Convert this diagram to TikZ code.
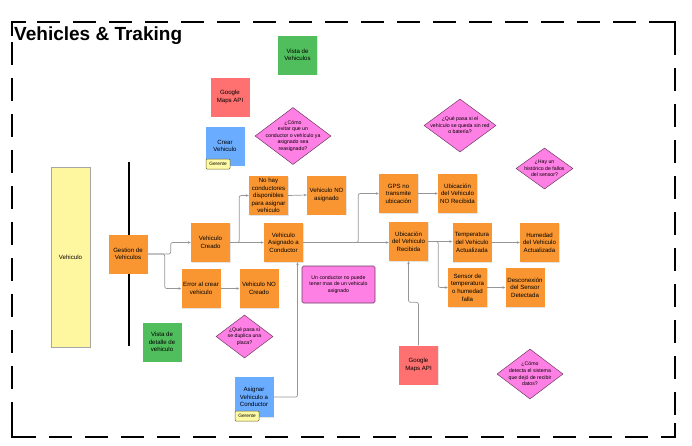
\documentclass[tikz,border=0pt]{standalone}
\usepackage{fontspec}
\setmainfont{Liberation Sans}
\usetikzlibrary{shapes.geometric,arrows.meta,shadows}
\definecolor{orng}{RGB}{249,150,50}
\definecolor{grn}{RGB}{80,190,92}
\definecolor{redn}{RGB}{255,112,112}
\definecolor{blu}{RGB}{106,172,255}
\definecolor{yel}{RGB}{255,246,160}
\definecolor{pnk}{RGB}{255,128,228}
\definecolor{pnkb}{RGB}{110,60,100}
\definecolor{tagf}{RGB}{255,250,165}
\definecolor{tagb}{RGB}{110,100,40}
\definecolor{conncol}{RGB}{150,150,150}
\begin{document}
\begin{tikzpicture}[x=1pt,y=-1pt,
  note/.style={minimum width=39pt,minimum height=39pt,inner sep=0pt,align=center,
    font=\fontsize{6.1}{7.6}\selectfont,
    drop shadow={shadow xshift=0.7pt,shadow yshift=-0.9pt,opacity=0.22}},
  onote/.style={note,fill=orng},
  gnote/.style={note,fill=grn},
  rnote/.style={note,fill=redn},
  bnote/.style={note,fill=blu},
  tagbox/.style={draw=tagb,fill=tagf,line width=0.5pt,rounded corners=1pt,inner sep=0pt,
    minimum width=24pt,minimum height=10pt,font=\fontsize{4.8}{5.5}\selectfont},
  dia/.style={shape=diamond,draw=pnkb,fill=pnk,line width=0.5pt,inner sep=0pt},
  dtext/.style={align=center,font=\fontsize{5.2}{6.6}\selectfont},
  conn/.style={draw=conncol,line width=0.7pt,rounded corners=2pt,
    -{Stealth[length=3pt,width=2.6pt]}},
  framel/.style={line width=2.6pt}
]
\useasboundingbox (0,0) rectangle (692,445);
% frame
\draw[framel,dash pattern=on 23pt off 13pt,dash phase=-20pt] (12,22) rectangle (675,437);
\draw[framel] (12,36) -- (12,22) -- (26,22);
\draw[framel] (661,22) -- (675,22) -- (675,36);
\draw[framel] (675,423) -- (675,437) -- (661,437);
\draw[framel] (26,437) -- (12,437) -- (12,423);
\node[anchor=west,font=\fontsize{19}{22}\bfseries\selectfont,inner sep=0pt] (title) at (14,36) {Vehicles \& Traking};
% lane separator
\draw[line width=2pt] (129,162) -- (129,346);

% nodes
\node[note,fill=yel,draw=black!35,line width=0.4pt,minimum height=180pt] (veh) at (70.5,257) {Vehiculo};
\node[gnote] (vistav) at (297.5,55) {Vista de\\Vehiculos};
\node[rnote] (gmaps1) at (230,97) {Google\\Maps API};
\node[bnote] (crear) at (225,146) {Crear\\Vehiculo};
\node[tagbox] (ger1) at (218,164) {Gerente};
\node[dia,minimum width=76pt,minimum height=57pt,
  label={[dtext]center:{¿Cómo\\evitar que un\\conductor o vehículo ya\\asignado sea\\reasignado?}}] (d1) at (293,136) {};

\node[onote] (gest) at (128,254) {Gestion de\\Vehiculos};
\node[onote] (vcre) at (210.5,242.5) {Vehiculo\\Creado};
\node[onote] (err) at (201,288.5) {Error al crear\\vehiculo};
\node[onote] (vnocre) at (259,288.5) {Vehiculo NO\\Creado};
\node[onote] (nohay) at (268.5,195.5) {No hay\\conductores\\disponibles\\para asignar\\vehiculo};
\node[onote] (vnoasig) at (326.5,195) {Vehiculo NO\\asignado};
\node[onote] (vasig) at (283.5,242.5) {Vehiculo\\Asignado a\\Conductor};
\node[onote] (gps) at (398.5,193.5) {GPS no\\transmite\\ubicación};
\node[onote] (unorec) at (457.5,193.5) {Ubicación\\del Vehiculo\\NO Recibida};
\node[onote] (urec) at (408.5,241.5) {Ubicación\\del Vehiculo\\Recibida};
\node[onote] (temp) at (472,242.5) {Temperatura\\del Vehiculo\\Actualizada};
\node[onote] (hum) at (539.5,242.5) {Humedad\\del Vehiculo\\Actualizada};
\node[onote] (sensor) at (467.5,287.5) {Sensor de\\temperatura\\o humedad\\falla};
\node[onote] (desc) at (525,287.5) {Desconexión\\del Sensor\\Detectada};

\node[draw=pnkb,fill=pnk,line width=0.6pt,rounded corners=1.5pt,minimum width=73pt,minimum height=37pt,
  inner sep=0pt,align=center,font=\fontsize{5.2}{6.6}\selectfont] (rule) at (338.5,284.5)
  {Un conductor no puede\\tener mas de un vehiculo\\asignado};

\node[dia,minimum width=72pt,minimum height=53pt,
  label={[dtext]center:{¿Qué pasa si el\\vehículo se queda sin red\\o batería?}}] (d2) at (460,125.5) {};
\node[dia,minimum width=57pt,minimum height=41pt,
  label={[dtext]center:{¿Hay un\\histórico de fallos\\del sensor?}}] (d3) at (544.5,168.5) {};
\node[dia,minimum width=57pt,minimum height=43pt,
  label={[dtext]center:{¿Qué pasa si\\se duplica una\\placa?}}] (d4) at (244.5,336.5) {};
\node[dia,minimum width=66pt,minimum height=50pt,
  label={[dtext]center:{¿Cómo\\detecta el sistema\\que dejó de recibir\\datos?}}] (d5) at (530,374) {};

\node[gnote] (vistad) at (162,342) {Vista de\\detalle de\\vehiculo};
\node[bnote,minimum height=40pt] (asig) at (254,397) {Asignar\\Vehiculo a\\Conductor};
\node[tagbox] (ger2) at (247,416) {Gerente};
\node[rnote] (gmaps2) at (418.5,365) {Google\\Maps API};

% connectors
\draw[conn] (gest.east) -- ++(23,0) |- (vcre.west);
\draw[conn] (gest.east) -- ++(17,0) |- (err.west);
\draw[conn] (vcre.east) -- (vasig.west);
\draw[conn] (vcre.east) -- ++(9,0) |- (nohay.west);
\draw[conn] (nohay.east) -- (vnoasig.west);
\draw[conn] (err.east) -- (vnocre.west);
\draw[conn] (vasig.east) -- (urec.west |- vasig.east);
\draw[conn] (vasig.east) -- ++(55,0) |- (gps.west);
\draw[conn] (gps.east) -- (unorec.west);
\draw[conn] (urec.east) -- (temp.west |- urec.east);
\draw[conn] (urec.east) -- ++(10,0) |- (sensor.west);
\draw[conn] (temp.east) -- (hum.west);
\draw[conn] (sensor.east) -- (desc.west);
\draw[conn] (gmaps2.north) -- ++(0,-43) -| (urec.south);
\draw[conn] (asig.east) -| ([xshift=14pt]vasig.south);
\end{tikzpicture}
\end{document}
